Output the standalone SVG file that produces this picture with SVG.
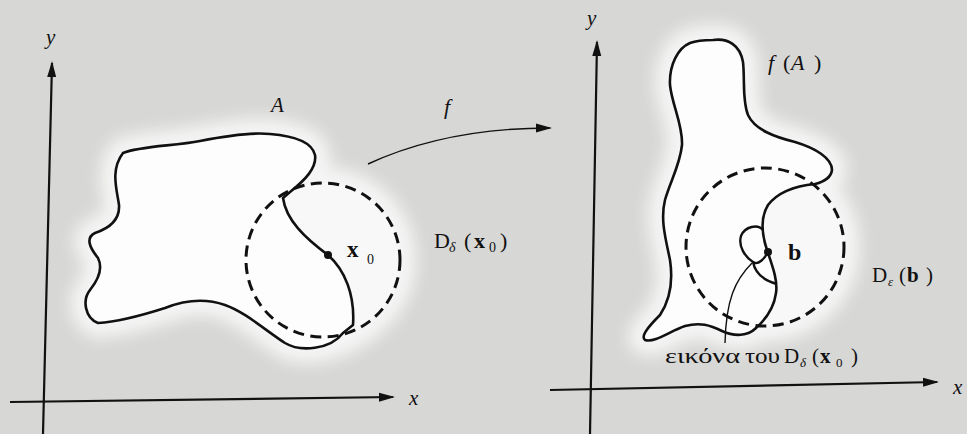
<svg xmlns="http://www.w3.org/2000/svg" width="967" height="434" viewBox="0 0 967 434">
<style>
.ax{fill:none;stroke:#111;stroke-width:2.2}
.bd{fill:#fdfdfd;stroke:#111;stroke-width:2.6;stroke-linejoin:round}
.ln{fill:none;stroke:#111;stroke-width:2.4}
.th{fill:none;stroke:#111;stroke-width:1.4}
.ds{fill:none;stroke:#111;stroke-width:3;stroke-dasharray:11 6.5}
.cf{fill:#f8f8f8;stroke:none}
text{font-family:"Liberation Serif","DejaVu Serif",serif;fill:#111}
.it{font-family:"Liberation Serif","DejaVu Serif",serif;font-style:italic}
.rm{font-family:"Liberation Serif","DejaVu Serif",serif;font-style:normal;font-weight:normal}
.bo{font-family:"Liberation Serif","DejaVu Serif",serif;font-weight:bold}
</style>
<defs>
<marker id="ah" markerWidth="16" markerHeight="10" refX="14" refY="5" orient="auto" markerUnits="userSpaceOnUse">
<path d="M0,0.5 L16,5 L0,9.5 Z" fill="#111"/>
</marker>
<filter id="blur" x="-30%" y="-30%" width="160%" height="160%"><feGaussianBlur stdDeviation="8"/></filter>
</defs>
<rect width="967" height="434" fill="#d7d7d5"/>
<g id="halo" filter="url(#blur)" fill="#fbfbfb" stroke="#fbfbfb" stroke-width="30" opacity="0.85">
<path d="M123,153 C140,146 175,146 200,141 C225,136 250,132 270,134 C295,136 312,142 315,155 C317,168 305,180 290,192 L350,200 L360,330 C330,350 300,352 285,343 C265,330 245,312 225,305 C205,298 185,300 165,308 C140,316 115,322 98,323 C85,318 82,300 90,290 C98,280 103,268 98,258 C90,248 85,238 95,233 C110,228 120,220 119,205 C117,190 110,170 123,153 Z"/>
<circle cx="323" cy="260" r="78"/>
<path d="M713,40 C728,38 740,45 743,62 C745,80 742,100 748,115 C755,130 775,137 795,142 C815,148 832,158 832,170 C831,178 823,182 815,184 L800,300 L756,328 C748,336 735,337 722,331 C710,325 700,322 685,326 C670,331 655,343 645,340 C640,336 650,325 660,315 C670,300 673,280 670,260 C666,240 660,220 665,200 C670,182 680,165 682,145 C683,125 672,105 670,85 C669,65 678,48 690,43 C698,40 705,40 713,40 Z"/>
<circle cx="765" cy="247" r="80"/>
</g>
<g id="axes-left">
<path class="ax" d="M43,434 L52,63" marker-end="url(#ah)"/>
<path class="ax" d="M10,402 L393,397" marker-end="url(#ah)"/>
<text class="it" x="46" y="44" font-size="21">y</text>
<text class="it" x="409" y="405" font-size="21">x</text>
</g>
<g id="region-A">
<circle class="cf" cx="323" cy="260" r="77"/>
<path class="bd" d="M123,153 C140,146 175,146 200,141 C225,136 250,132 270,134 C295,136 312,142 315,155 C317,168 305,180 290,192 L283,198 C286,220 305,238 328,255 C345,270 355,295 353,325 L343,333 C330,350 300,352 285,343 C265,330 245,312 225,305 C205,298 185,300 165,308 C140,316 115,322 98,323 C85,318 82,300 90,290 C98,280 103,268 98,258 C90,248 85,238 95,233 C110,228 120,220 119,205 C117,190 110,170 123,153 Z"/>
<text class="it" x="271" y="112" font-size="21">A</text>
</g>
<g id="disk-left">
<circle class="ds" cx="323" cy="260" r="77"/>
<circle cx="328" cy="255" r="4" fill="#111"/>
<text class="bo" x="347" y="257" font-size="23">x</text>
<text class="rm" x="367" y="264" font-size="14">0</text>
<text class="rm" x="434" y="248" font-size="22">D</text>
<text class="it" x="449" y="252" font-size="14">δ</text>
<text class="rm" x="464" y="248" font-size="22">(</text>
<text class="bo" x="474" y="248" font-size="22">x</text>
<text class="rm" x="489" y="252" font-size="14">0</text>
<text class="rm" x="500" y="248" font-size="22">)</text>
</g>
<g id="connectors">
<path class="th" d="M368,164 C420,140 480,128 550,128" marker-end="url(#ah)"/>
<text class="it" x="444" y="114" font-size="22">f</text>
</g>
<g id="axes-right">
<path class="ax" d="M590,434 L597,42" marker-end="url(#ah)"/>
<path class="ax" d="M550,390 L937,382" marker-end="url(#ah)"/>
<text class="it" x="587" y="25" font-size="21">y</text>
<text class="it" x="953" y="394" font-size="21">x</text>
</g>
<g id="region-fA">
<circle class="cf" cx="765" cy="247" r="79"/>
<path class="bd" d="M713,40 C728,38 740,45 743,62 C745,80 742,100 748,115 C755,130 775,137 795,142 C815,148 832,158 832,170 C831,178 823,182 815,184 C795,186 778,192 768,205 C760,218 762,235 767,250 C772,265 778,280 776,293 C774,308 765,320 756,328 C748,336 735,337 722,331 C710,325 700,322 685,326 C670,331 655,343 645,340 C640,336 650,325 660,315 C670,300 673,280 670,260 C666,240 660,220 665,200 C670,182 680,165 682,145 C683,125 672,105 670,85 C669,65 678,48 690,43 C698,40 705,40 713,40 Z"/>
<text class="it" x="768" y="70" font-size="22">f</text>
<text class="rm" x="783" y="70" font-size="22">(</text>
<text class="it" x="791" y="70" font-size="22">A</text>
<text class="rm" x="814" y="70" font-size="22">)</text>
</g>
<g id="disk-right">
<circle class="ds" cx="765" cy="247" r="79"/>
<path class="ln" d="M763,230 C758,224 745,226 741,236 C738,246 745,257 753,262 C758,266 765,258 768,252 M753,262 C755,272 762,280 777,284"/>
<circle cx="768" cy="252" r="4" fill="#111"/>
<text class="bo" x="788" y="260" font-size="24">b</text>
<text class="rm" x="872" y="282" font-size="21">D</text>
<text class="it" x="888" y="286" font-size="13">ε</text>
<text class="rm" x="899" y="282" font-size="21">(</text>
<text class="bo" x="907" y="282" font-size="21">b</text>
<text class="rm" x="926" y="282" font-size="21">)</text>
</g>
<g id="label-image">
<path class="th" d="M752,263 C735,280 726,300 725,343"/>
<text class="rm" x="665" y="363" font-size="22" textLength="75" lengthAdjust="spacingAndGlyphs">εικόνα</text>
<text class="rm" x="745" y="363" font-size="22" textLength="35" lengthAdjust="spacingAndGlyphs">του</text>
<text class="rm" x="784" y="363" font-size="21">D</text>
<text class="it" x="800" y="367" font-size="13">δ</text>
<text class="rm" x="812" y="363" font-size="21">(</text>
<text class="bo" x="820" y="363" font-size="21">x</text>
<text class="rm" x="836" y="367" font-size="13">0</text>
<text class="rm" x="851" y="363" font-size="21">)</text>
</g>
</svg>
